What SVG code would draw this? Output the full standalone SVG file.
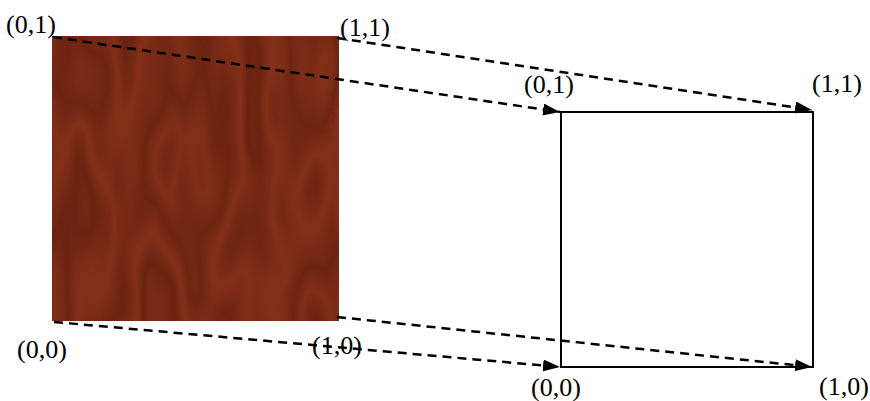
<svg xmlns="http://www.w3.org/2000/svg" width="870" height="401" viewBox="0 0 870 401">
<style>
.lbl{font-family:"Liberation Serif","Times New Roman",serif;font-size:26px;fill:#000}
.conn{fill:none;stroke:#000;stroke-width:2.5;stroke-dasharray:9,6}
</style>
<defs>
<marker id="ah" viewBox="0 0 17 12" refX="17" refY="6" markerWidth="17" markerHeight="12" markerUnits="userSpaceOnUse" orient="auto">
<path d="M0,0 L17,6 L0,12 Z" fill="#000"/>
</marker>
<filter id="wood" filterUnits="userSpaceOnUse" x="52" y="36" width="287" height="285" color-interpolation-filters="sRGB">
<feTurbulence type="fractalNoise" baseFrequency="0.011 0.0035" numOctaves="3" seed="7" result="n"/>
<feComponentTransfer in="n" result="r">
<feFuncR type="table" tableValues="0 1 0.2 0.9 0.1 1 0.2 0.9 0.1 1 0"/>
</feComponentTransfer>
<feColorMatrix in="r" type="matrix" values="0.12 0 0 0 0.40  0.06 0 0 0 0.13  0.04 0 0 0 0.06  0 0 0 0 1"/>
</filter>
</defs>
<g id="texture">
<rect x="52" y="36" width="287" height="285" fill="#7a2a14"/>
<rect x="52" y="36" width="287" height="285" filter="url(#wood)"/>
</g>
<g id="target">
<rect x="561" y="112" width="252" height="255" fill="none" stroke="#000" stroke-width="2"/>
</g>
<g id="connectors">
<line class="conn" x1="53" y1="37" x2="560" y2="112" marker-end="url(#ah)"/>
<line class="conn" x1="337" y1="38" x2="812" y2="110" marker-end="url(#ah)"/>
<line class="conn" x1="54" y1="322" x2="560" y2="367" marker-end="url(#ah)"/>
<line class="conn" x1="337" y1="317" x2="812" y2="367" marker-end="url(#ah)"/>
</g>
<g id="labels">
<text class="lbl" x="6" y="33">(0,1)</text>
<text class="lbl" x="340" y="36">(1,1)</text>
<text class="lbl" x="524" y="93">(0,1)</text>
<text class="lbl" x="812" y="92">(1,1)</text>
<text class="lbl" x="17" y="358">(0,0)</text>
<text class="lbl" x="312" y="354">(1,0)</text>
<text class="lbl" x="531" y="396">(0,0)</text>
<text class="lbl" x="819" y="395">(1,0)</text>
</g>
</svg>
